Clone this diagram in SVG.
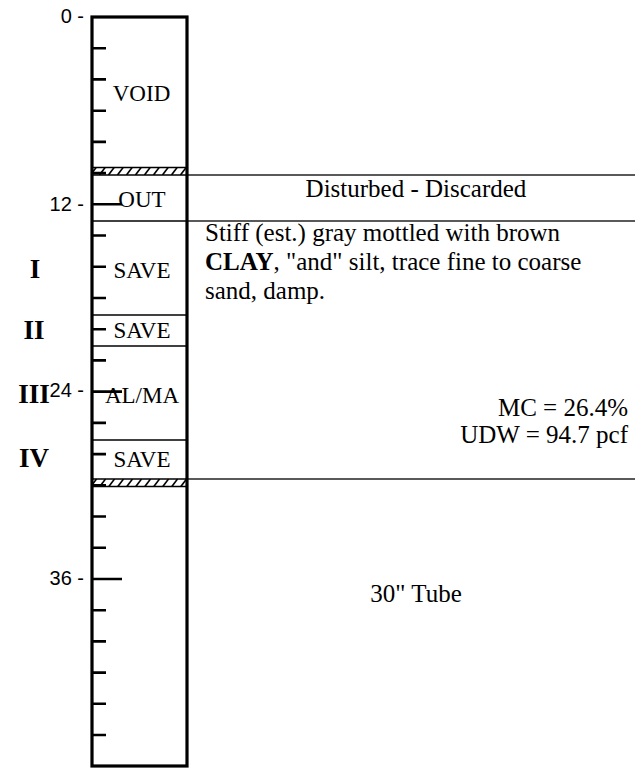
<svg xmlns="http://www.w3.org/2000/svg" width="635" height="769" viewBox="0 0 635 769">
<style>
.ax{font-family:"Liberation Sans",Arial,sans-serif;font-size:20px;fill:#000;text-anchor:end}
.lab{font-family:"Liberation Serif","Times New Roman",serif;font-size:23px;fill:#000;text-anchor:middle}
.rn{font-family:"Liberation Serif","Times New Roman",serif;font-size:27px;font-weight:bold;fill:#000;text-anchor:middle}
.desc{font-family:"Liberation Serif","Times New Roman",serif;font-size:25px;fill:#000}
.tick{stroke:#000;stroke-width:2.6;fill:none}
.thin{stroke:#000;stroke-width:1.6;fill:none}
.out{stroke:#222;stroke-width:1.3;fill:none}
</style>
<defs>
<pattern id="hatch" patternUnits="userSpaceOnUse" x="0" y="167" width="9" height="8">
<line x1="0.5" y1="8" x2="6.5" y2="0" stroke="#000" stroke-width="1.6"/>
</pattern>
</defs>
<rect width="635" height="769" fill="#fff"/>
<g id="connectors">
<line class="out" x1="187" y1="175" x2="635" y2="175"/>
<line class="out" x1="187" y1="221" x2="635" y2="221"/>
<line class="out" x1="187" y1="479" x2="635" y2="479"/>
</g>
<g id="column">
<rect x="92" y="167" width="95" height="8" fill="url(#hatch)"/>
<line class="thin" x1="92" y1="167.5" x2="187" y2="167.5" stroke-width="2"/>
<line class="thin" x1="92" y1="175" x2="187" y2="175"/>
<rect x="92" y="479" width="95" height="8" fill="url(#hatch)"/>
<line class="thin" x1="92" y1="479" x2="187" y2="479" stroke-width="2"/>
<line class="thin" x1="92" y1="486.5" x2="187" y2="486.5"/>
<line class="thin" x1="92" y1="221" x2="187" y2="221"/>
<line class="thin" x1="92" y1="315" x2="187" y2="315"/>
<line class="thin" x1="92" y1="346" x2="187" y2="346"/>
<line class="thin" x1="92" y1="440" x2="187" y2="440"/>
<path class="tick" d="M92,48.2H106M92,79.4H106M92,110.7H106M92,141.9H106M92,173.1H106M92,204.3H122M92,235.5H106M92,266.8H106M92,298H106M92,329.2H106M92,360.4H106M92,391.6H122M92,422.9H106M92,454.1H106M92,485.3H106M92,516.5H106M92,547.7H106M92,579H122M92,610.2H106M92,641.4H106M92,672.6H106M92,703.8H106M92,735H106"/>
<rect x="92" y="17" width="95" height="749" fill="none" stroke="#000" stroke-width="3.2"/>
</g>
<g id="axis">
<text class="ax" x="84" y="23">0 -</text>
<text class="ax" x="84" y="211">12 -</text>
<text class="ax" x="84" y="397">24 -</text>
<text class="ax" x="84" y="585">36 -</text>
</g>
<g id="sample-labels">
<text class="lab" x="141.5" y="101">VOID</text>
<text class="lab" x="142" y="207">OUT</text>
<text class="lab" x="142" y="278">SAVE</text>
<text class="lab" x="142" y="338">SAVE</text>
<text class="lab" x="142" y="403">AL/MA</text>
<text class="lab" x="142" y="467">SAVE</text>
</g>
<g id="roman">
<text class="rn" x="35" y="278">I</text>
<text class="rn" x="34" y="339">II</text>
<text class="rn" x="34" y="403">III</text>
<text class="rn" x="34" y="467">IV</text>
</g>
<g id="descriptions">
<text class="desc" x="416" y="197" text-anchor="middle">Disturbed - Discarded</text>
<text class="desc" x="205" y="241">Stiff (est.) gray mottled with brown</text>
<text class="desc" x="205" y="270"><tspan font-weight="bold">CLAY</tspan>, "and" silt, trace fine to coarse</text>
<text class="desc" x="205" y="299">sand, damp.</text>
<text class="desc" x="628" y="416" text-anchor="end">MC = 26.4%</text>
<text class="desc" x="628" y="443" text-anchor="end">UDW = 94.7 pcf</text>
<text class="desc" x="416" y="602" text-anchor="middle">30" Tube</text>
</g>
</svg>
